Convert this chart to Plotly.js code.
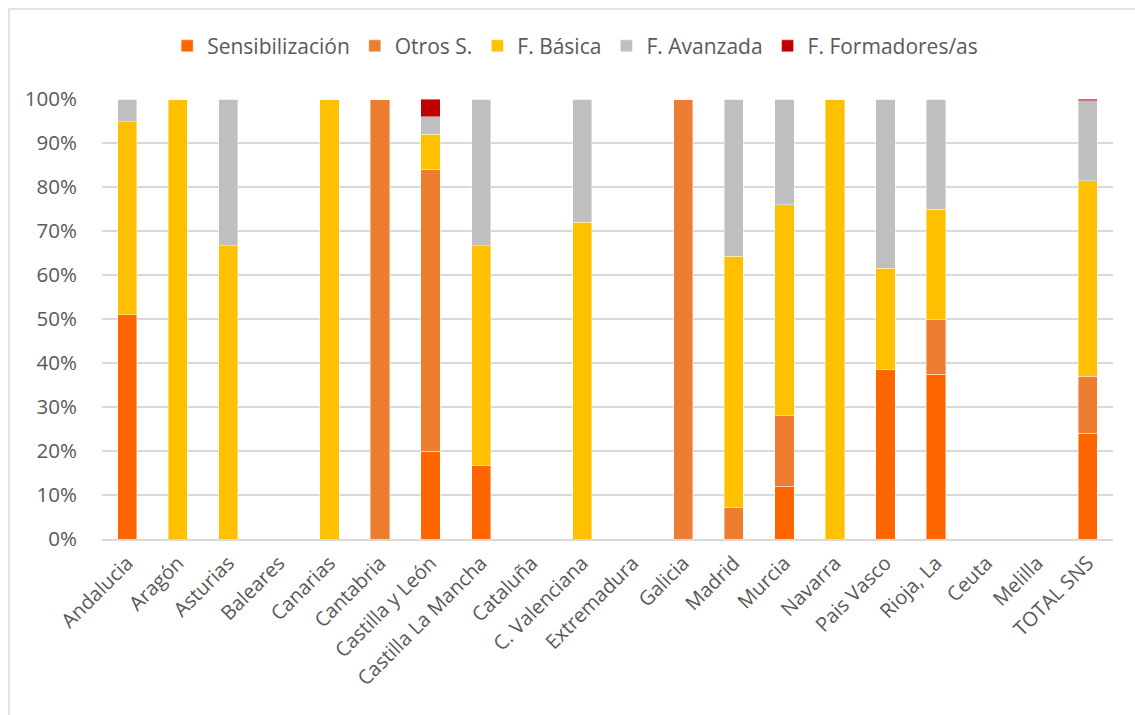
<!DOCTYPE html>
<html>
<head>
<meta charset="utf-8">
<script src="https://cdn.plot.ly/plotly-3.0.1.min.js"></script>
<style>
html,body{margin:0;padding:0;background:#fff;}
#chart{width:1135px;height:715px;}
</style>
</head>
<body>
<div id="chart"></div>
<script>
const categories = ["Andalucia","Aragón","Asturias","Baleares","Canarias","Cantabria","Castilla y León","Castilla La Mancha","Cataluña","C. Valenciana","Extremadura","Galicia","Madrid","Murcia","Navarra","Pais Vasco","Rioja, La","Ceuta","Melilla","TOTAL SNS"];
const sensibilizacion = [0.51,0,0,0,0,0,0.20,0.167,0,0,0,0,0,0.12,0,0.385,0.375,0,0,0.24];
const otrosS          = [0,0,0,0,0,1.00,0.64,0,0,0,0,1.00,0.071,0.16,0,0,0.125,0,0,0.13];
const fBasica         = [0.438,1.00,0.667,0,1.00,0,0.08,0.50,0,0.72,0,0,0.572,0.48,1.00,0.23,0.25,0,0,0.444];
const fAvanzada       = [0.052,0,0.333,0,0,0,0.04,0.333,0,0.28,0,0,0.357,0.24,0,0.385,0.25,0,0,0.182];
const fFormadores     = [0,0,0,0,0,0,0.04,0,0,0,0,0,0,0,0,0,0,0,0,0.004];
const seriesNames = ["Sensibilización","Otros S.","F. Básica","F. Avanzada","F. Formadores/as"];
const seriesColors = ["#FF6600","#ED7D31","#FFC000","#BFBFBF","#C00000"];
const seriesData = [sensibilizacion, otrosS, fBasica, fAvanzada, fFormadores];

const traces = seriesData.map((d,i)=>({
  type:'bar', x:categories, y:d, name:seriesNames[i],
  marker:{color:seriesColors[i], line:{color:'rgba(255,255,255,0.6)', width:0.7}},
  width:0.38, hoverinfo:'x+y+name'
}));

const fontFam = '"Open Sans", Carlito, Calibri, sans-serif';
const layout = {
  width:1135, height:715,
  margin:{l:102, r:22, t:99, b:175.5},
  barmode:'stack',
  paper_bgcolor:'#fff', plot_bgcolor:'#fff',
  font:{family:fontFam, color:'#595959', size:20},
  showlegend:true,
  legend:{orientation:'h', x:0.468, xanchor:'center', y:1.12, yanchor:'middle',
          font:{family:fontFam, size:21, color:'#595959'}, traceorder:'normal', itemwidth:30},
  xaxis:{tickangle:-45, tickfont:{size:20, color:'#595959'}, showline:true, linecolor:'#d9d9d9', linewidth:1.5,
         showgrid:false, ticks:'outside', ticklen:3, tickcolor:'rgba(0,0,0,0)', automargin:false},
  yaxis:{range:[0,1], tickformat:'.0%', dtick:0.1, tickfont:{size:20.5, color:'#595959'},
         showgrid:true, gridcolor:'#d9d9d9', gridwidth:1.5, zeroline:false,
         ticks:'outside', ticklen:20, tickcolor:'rgba(0,0,0,0)',
         automargin:false, fixedrange:true},
  shapes:[{type:'rect', xref:'paper', yref:'paper', x0:-0.0919, x1:1.2, y0:-0.6, y1:1.2043,
           line:{color:'#d9d9d9', width:1.5}, fillcolor:'rgba(0,0,0,0)', layer:'below'}]
};
Plotly.newPlot('chart', traces, layout, {displayModeBar:false, staticPlot:true});
</script>
</body>
</html>
